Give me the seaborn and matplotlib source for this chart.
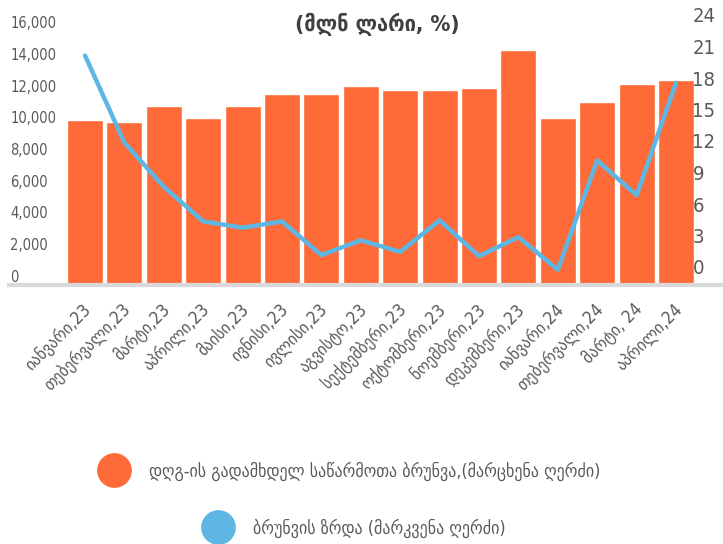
import numpy as np
import pandas as pd
import matplotlib
matplotlib.use("Agg")
import matplotlib.pyplot as plt
import matplotlib.transforms as mtransforms
from matplotlib.lines import Line2D
import seaborn as sns

months = ["იანვარი,23", "თებერვალი,23", "მარტი,23", "აპრილი,23", "მაისი,23",
          "ივნისი,23", "ივლისი,23", "აგვისტო,23", "სექტემბერი,23", "ოქტომბერი,23",
          "ნოემბერი,23", "დეკემბერი,23", "იანვარი,24", "თებერვალი,24", "მარტი, 24",
          "აპრილი,24"]
turnover = [10390, 10270, 11280, 10520, 11280, 12030, 12030, 12540,
            12280, 12280, 12410, 14800, 10520, 11530, 12660, 12910]
growth = [21.0, 12.7, 8.5, 5.2, 4.6, 5.2, 2.0, 3.4,
          2.3, 5.3, 1.9, 3.7, 0.6, 11.0, 7.7, 18.4]
left_ticks = [0, 2000, 4000, 6000, 8000, 10000, 12000, 14000, 16000]
right_ticks = [0, 3, 6, 9, 12, 15, 18, 21, 24]
title = "(მლნ ლარი, %)"
legend_bar = "დღგ-ის გადამხდელ საწარმოთა ბრუნვა,(მარცხენა ღერძი)"
legend_line = "ბრუნვის ზრდა (მარკვენა ღერძი)"

BAR_C = "#FF6B38"
LINE_C = "#5DB6E3"
TXT_C = "#595959"

sns.set_style("white")
plt.rcParams["font.family"] = ["DejaVu Sans"]
plt.rcParams["font.stretch"] = "condensed"

W, H = 723, 544
fig = plt.figure(figsize=(W / 100, H / 100), dpi=100)
ax = fig.add_axes([9 / W, (H - 285) / H, (W - 9) / W, (285 - 15) / H])

df = pd.DataFrame({"month": months, "turnover": turnover})
sns.barplot(data=df, x="month", y="turnover", color=BAR_C, saturation=1,
            width=0.915, ax=ax, zorder=2)

pitch = 39.4
c0 = 85
ax.set_xlim((9 - c0) / pitch, (W - c0) / pitch)
s_left = (285 - 31) / 16000
ax.set_ylim(0, 16000 + (31 - 15) / s_left)
ax.set_xlabel("")
ax.set_ylabel("")
ax.set_yticks(left_ticks)
ax.set_yticklabels([f"{v:,}" for v in left_ticks])
ax.tick_params(axis="y", length=0, pad=-1, labelsize=10.5, labelcolor=TXT_C)
for lab in ax.get_yticklabels():
    lab.set_horizontalalignment("left")
    lab.set_fontstretch("condensed")
    lab.set_transform(lab.get_transform() +
                      mtransforms.ScaledTranslation(0, 9 / 100, fig.dpi_scale_trans))

ax.set_xticks(range(len(months)))
ax.set_xticklabels(months, rotation=45, ha="right", rotation_mode="anchor",
                   fontsize=12.5, color=TXT_C, fontstretch="condensed")
ax.tick_params(axis="x", length=0, pad=11)
for lab in ax.get_xticklabels():
    lab.set_transform(lab.get_transform() +
                      mtransforms.ScaledTranslation(-3 / 100, 0, fig.dpi_scale_trans))

for sp in ["top", "left", "right"]:
    ax.spines[sp].set_visible(False)
ax.spines["bottom"].set_color("#D9D9D9")
ax.spines["bottom"].set_linewidth(3)
ax.spines["bottom"].set_zorder(5)
ax.grid(False)

ax2 = ax.twinx()
s_right = 10.5
ax2.set_ylim(-(285 - 276) / s_right, 24 + (24 - 15) / s_right)
sns.lineplot(x=np.arange(len(growth)), y=growth, ax=ax2, color=LINE_C,
             linewidth=3.2, zorder=3)
ax2.set_xlim(ax.get_xlim())
ax2.set_yticks(right_ticks)
ax2.set_yticklabels([str(v) for v in right_ticks])
ax2.tick_params(axis="y", length=0, pad=-22, labelsize=14.5, labelcolor=TXT_C)
for lab in ax2.get_yticklabels():
    lab.set_horizontalalignment("left")
    lab.set_fontstretch("condensed")
    lab.set_transform(lab.get_transform() +
                      mtransforms.ScaledTranslation(0, 9 / 100, fig.dpi_scale_trans))
for sp in ["top", "left", "right", "bottom"]:
    ax2.spines[sp].set_visible(False)
ax2.set_ylabel("")
ax2.grid(False)

fig.text(377 / W, 1 - 24 / H, title, ha="center", va="center", fontsize=16,
         fontweight="bold", color="#404040", fontstretch="condensed")

h1 = Line2D([], [], marker="o", linestyle="", markersize=24,
            markerfacecolor=BAR_C, markeredgecolor=BAR_C)
h2 = Line2D([], [], marker="o", linestyle="", markersize=24,
            markerfacecolor=LINE_C, markeredgecolor=LINE_C)
leg1 = fig.legend([h1], [legend_bar], loc="center left",
                  bbox_to_anchor=(80 / W, 1 - 471 / H), frameon=False,
                  handletextpad=1.0, prop={"size": 12.8, "stretch": "condensed"})
for t in leg1.get_texts():
    t.set_color(TXT_C)
leg2 = fig.legend([h2], [legend_line], loc="center left",
                  bbox_to_anchor=(184 / W, 1 - 528 / H), frameon=False,
                  handletextpad=1.0, prop={"size": 12.8, "stretch": "condensed"})
for t in leg2.get_texts():
    t.set_color(TXT_C)

fig.savefig("out.png", dpi=100)
